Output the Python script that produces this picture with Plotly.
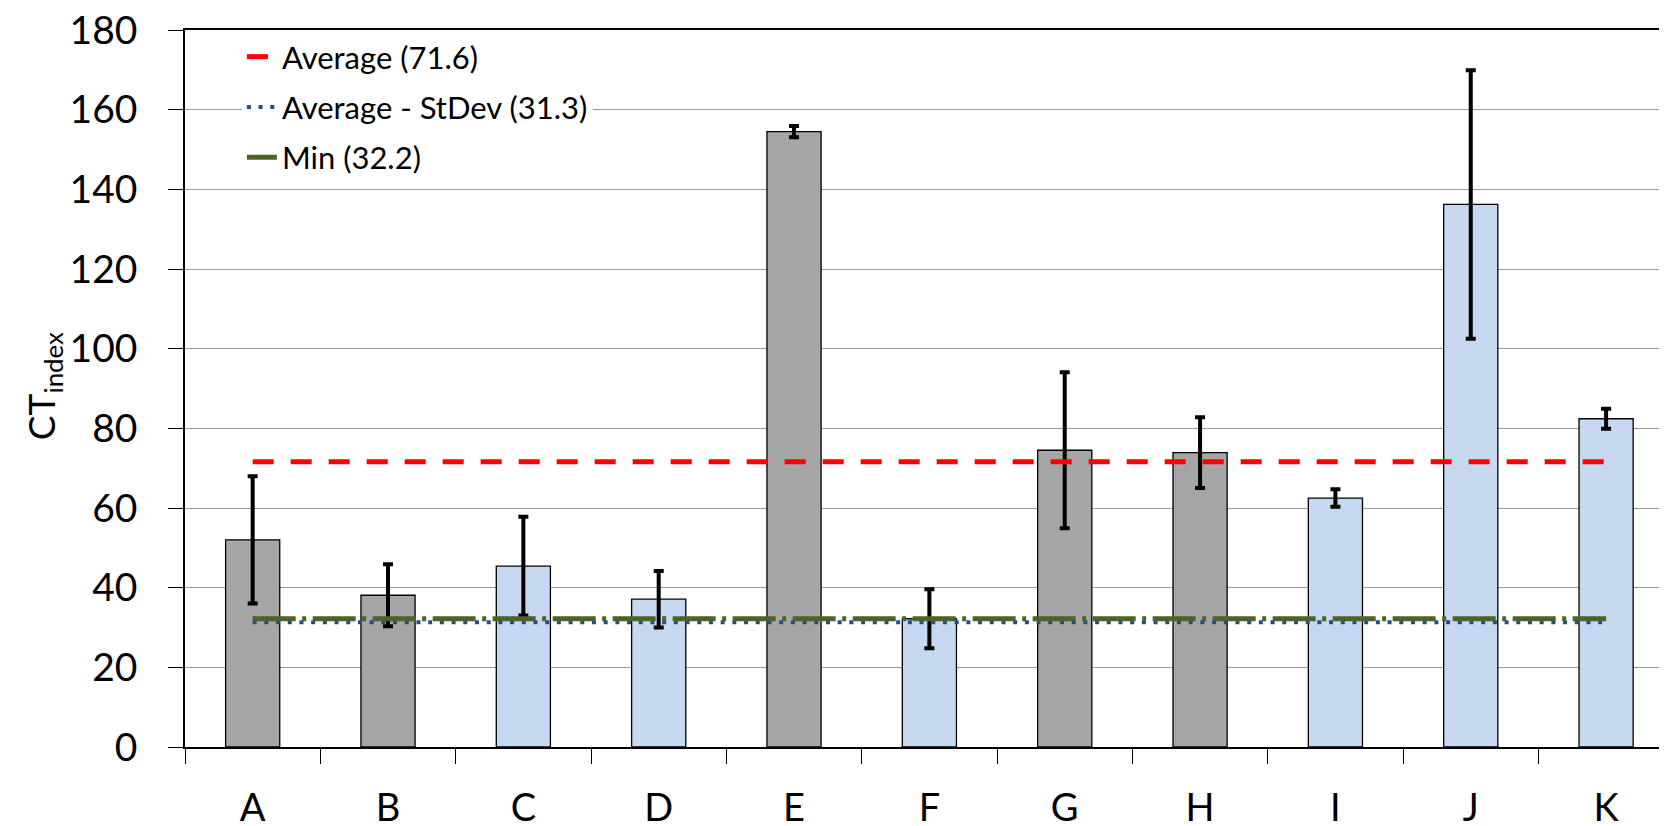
import plotly.graph_objects as go

categories = ["A", "B", "C", "D", "E", "F", "G", "H", "I", "J", "K"]
ct_index = [52.0, 38.1, 45.4, 37.1, 154.5, 32.2, 74.5, 73.9, 62.5, 136.2, 82.4]
ct_error = [16.0, 7.8, 12.4, 7.1, 1.4, 7.4, 19.6, 8.9, 2.2, 33.7, 2.5]
group = ["g", "g", "b", "b", "g", "b", "g", "g", "b", "b", "b"]

avg_value = 71.6
avg_minus_sd_value = 31.3
min_value = 32.2

ref_lines = [
    ("Average (71.6)", avg_value, "#FF0000", "21px,17px", 5),
    ("Average - StDev (31.3)", avg_minus_sd_value, "#1F4E8A", "4px,7.7px", 4),
    ("Min (32.2)", min_value, "#4F6228", "43px,6.5px,4px,6.5px", 5),
]

color_map = {"g": "#A6A6A6", "b": "#C6D9F0"}
FONT = "Lato"

fig = go.Figure()
fig.add_trace(go.Bar(
    x=categories, y=ct_index,
    marker=dict(color=[color_map[g] for g in group], line=dict(color="black", width=1.3)),
    error_y=dict(type="data", array=ct_error, visible=True, color="black", thickness=4, width=5),
    showlegend=False,
))

for i, (name, val, col, dash, w) in enumerate(ref_lines):
    fig.add_trace(go.Scatter(
        x=categories, y=[val] * len(categories), mode="lines", name=name,
        line=dict(color=col, dash=dash, width=w),
        legendgroup=f"g{i}",
    ))

fig.add_annotation(
    text="CT<sub>index</sub>", textangle=-90,
    xref="paper", yref="paper", x=-0.095, y=0.5036,
    xanchor="center", yanchor="middle", showarrow=False,
    font=dict(family=FONT, size=37, color="black"),
)

# page body has an 8px margin: figure is sized so it ends at the window edge
fig.update_layout(
    width=1659, height=818,
    margin=dict(l=177, r=0, t=22, b=79, pad=0),
    plot_bgcolor="white", paper_bgcolor="white",
    bargap=0.6,
    font=dict(family=FONT, color="black"),
    legend=dict(
        x=0.0384, y=1.0, xanchor="left", yanchor="top",
        bgcolor="white", borderwidth=0,
        font=dict(family=FONT, size=31, color="black"),
        tracegroupgap=7, traceorder="grouped",
    ),
    xaxis=dict(
        type="category", range=[-0.5, 10.45], automargin=False,
        showline=True, linecolor="black", linewidth=1.5, mirror=True,
        ticks="outside", tickson="boundaries", ticklen=15, tickwidth=1.3, tickcolor="black",
        tickfont=dict(family=FONT, size=38, color="black"),
        showgrid=False, ticklabelstandoff=27, ticklabeloverflow="allow",
    ),
    yaxis=dict(
        range=[0, 180], dtick=20, automargin=False,
        showgrid=True, gridcolor="#9a9a9a", gridwidth=1.2,
        showline=True, linecolor="black", linewidth=1.5,
        ticks="outside", ticklen=15, tickwidth=1.3, tickcolor="black",
        tickfont=dict(family=FONT, size=39, color="black"),
        zeroline=False, ticklabelstandoff=23, ticklabeloverflow="allow",
    ),
)

fig.write_html("out.html")
